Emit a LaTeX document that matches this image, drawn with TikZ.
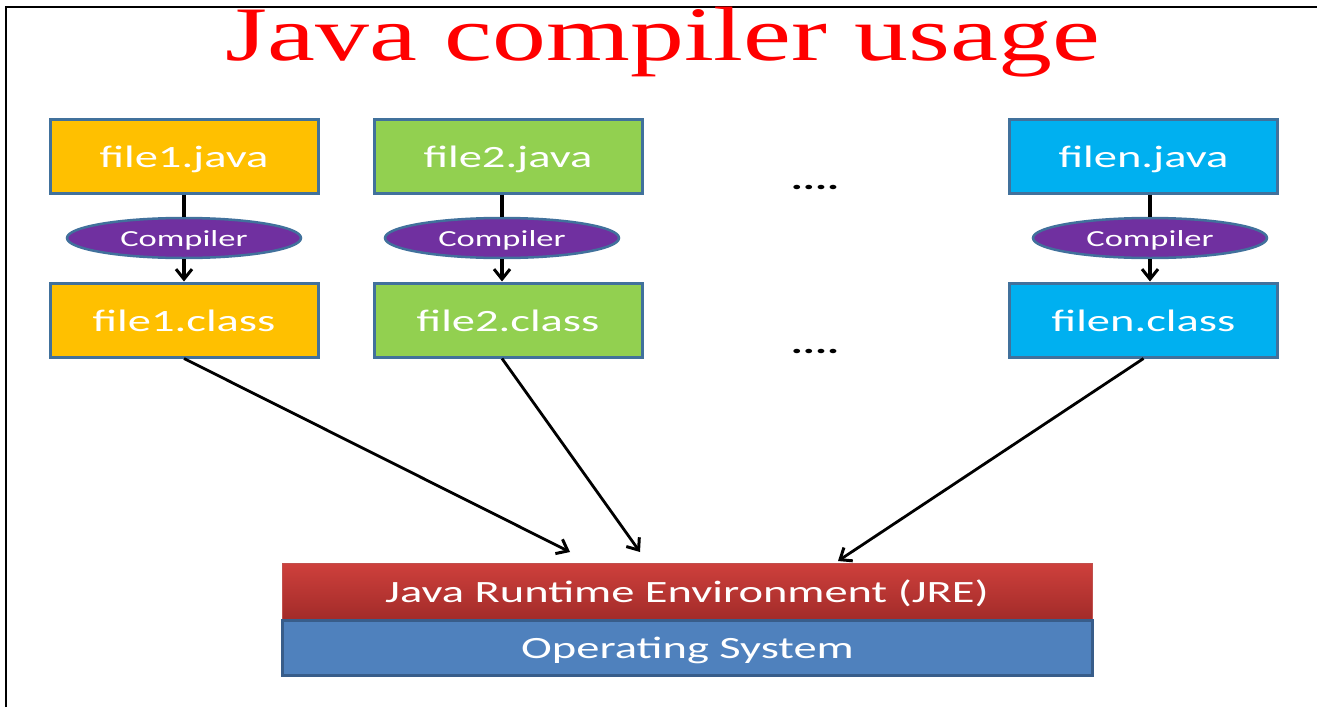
\documentclass[tikz,border=0pt]{standalone}
\usepackage{fontspec}
\setmainfont{Carlito}[FakeStretch=1.5]
\newfontfamily\titlefont{Liberation Serif}[FakeStretch=1.4]
\usetikzlibrary{shapes.geometric,arrows.meta}
\definecolor{orangebox}{HTML}{FFC000}
\definecolor{greenbox}{HTML}{92D050}
\definecolor{bluebox}{HTML}{00B0F0}
\definecolor{purplebox}{HTML}{7030A0}
\definecolor{edgeblue}{HTML}{41719C}
\definecolor{jretop}{HTML}{CE403C}
\definecolor{jrebottom}{HTML}{A22B29}
\definecolor{jreedge}{HTML}{C0504D}
\definecolor{osblue}{HTML}{4F81BD}
\definecolor{osedge}{HTML}{385D8A}
\begin{document}
\begin{tikzpicture}[x=1pt,y=-1pt,>={Straight Barb[length=10pt,width=16pt,line width=3pt]}]
        % Styles
        \tikzstyle{file box}=[draw=edgeblue,line width=3pt,minimum width=268pt,minimum height=74pt,inner sep=0pt,text height=26pt,text depth=4pt,text=white,font=\fontsize{31}{36}\selectfont]
        \tikzstyle{compiler}=[ellipse,draw=edgeblue,line width=2.5pt,fill=purplebox,minimum width=234pt,minimum height=40pt,inner sep=0pt,text height=19pt,text depth=2pt,text=white,font=\fontsize{23}{28}\selectfont]
        \tikzstyle{layer bar}=[minimum width=810pt,minimum height=57pt,inner sep=0pt,text height=25pt,text depth=4pt,text=white,font=\fontsize{31}{36}\selectfont]
        \tikzstyle{flow}=[line width=3.5pt]
        \tikzstyle{run}=[line width=2.8pt]
        %The graphic
        \useasboundingbox (0,0) rectangle (1317,707);
        \fill[white] (0,0) rectangle (1317,707);
        %frame
        \draw[line width=2.5pt] (6,707) -- (6,7) -- (1317,7);
        %title
        \node[anchor=base,text=red,font=\titlefont\fontsize{77}{80}\selectfont] (title) at (663,60) {Java compiler usage};
        %columns
        \foreach \cx/\lx/\n/\col in {184/184/1/orangebox,508/502/2/greenbox,1143.5/1150/n/bluebox}
        {
            \node[file box,fill=\col] (java\n) at (\cx,156) {file\n.java};
            \node[compiler] (comp\n) at (\lx,238) {Compiler};
            \node[file box,fill=\col] (class\n) at (\cx,320) {file\n.class};
            \draw[flow] (java\n.south -| comp\n) -- (comp\n.north);
            \draw[flow,->] (comp\n.south) -- (class\n.north -| comp\n);
        }
        \node[anchor=base,font=\bfseries\fontsize{30}{36}\selectfont] (dots1) at (815,189) {....};
        \node[anchor=base,font=\bfseries\fontsize{30}{36}\selectfont] (dots2) at (815,353) {....};
        %layers
        \node[layer bar,draw=jreedge,line width=1pt,top color=jretop,bottom color=jrebottom] (jre) at (687,591.5) {Java Runtime Environment (JRE)};
        \node[layer bar,draw=osedge,line width=2.5pt,fill=osblue,minimum height=55pt] (os) at (687.5,648) {Operating System};
        %arrows to the JRE
        \coordinate (in1) at (570,552);
        \coordinate (in2) at (640,552);
        \coordinate (inn) at (838,561);
        \draw[run,->] (class1.south) -- (in1);
        \draw[run,->] (class2.south -| comp2) -- (in2);
        \draw[run,->] (classn.south) -- (inn);
\end{tikzpicture}
\end{document}
